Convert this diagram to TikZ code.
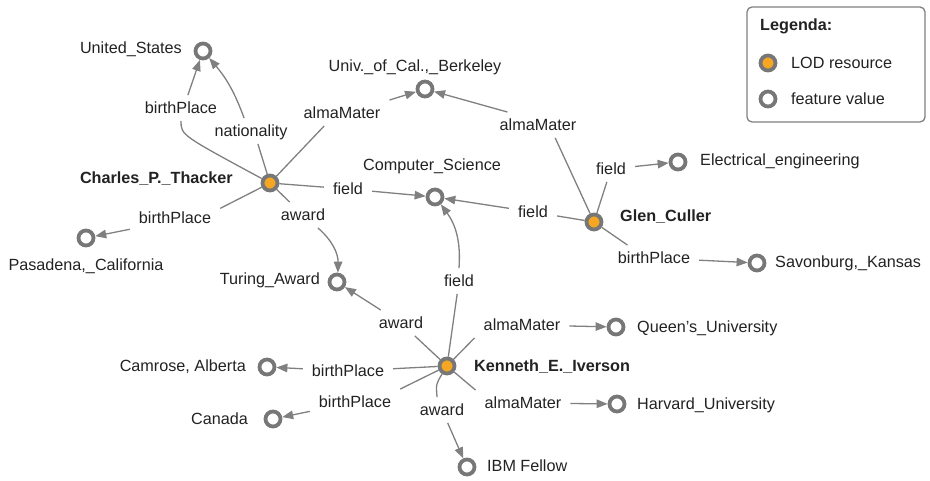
\documentclass[tikz,border=0pt]{standalone}
\usepackage{fontspec}
\setmainfont{Liberation Sans}
\usetikzlibrary{arrows.meta}
\definecolor{ringgray}{RGB}{119,119,119}
\definecolor{linkgray}{RGB}{128,128,128}
\definecolor{lodorange}{RGB}{245,166,35}
\definecolor{inkgray}{RGB}{34,34,34}
\newcommand\diagfont{\fontsize{16.2}{19}\selectfont}
\begin{document}
\begin{tikzpicture}[x=1pt,y=-1pt,
  every node/.style={font=\diagfont, text=inkgray},
  valnode/.style={circle, draw=ringgray, line width=3.8pt, fill=white,
                  minimum size=15pt, inner sep=0pt},
  resnode/.style={valnode, fill=lodorange},
  nodetext/.style={inner sep=0pt, text height=11.5pt, text depth=0pt},
  edgetext/.style={inner xsep=9pt, inner ysep=7pt, text height=11.5pt, text depth=0pt},
  linkline/.style={draw=linkgray, line width=1.3pt},
  arrowlink/.style={linkline, -{Triangle[length=11pt,width=8.5pt]}},
]
\useasboundingbox (0,0) rectangle (930,481);

% resources
\node[resnode] (C) at (270,183) {};
\node[resnode] (G) at (594,222) {};
\node[resnode] (K) at (447,366) {};
\node[nodetext, anchor=east, font=\diagfont\bfseries] (Ct) at (233,178) {Charles\_P.\_Thacker};
\node[nodetext, anchor=west, font=\diagfont\bfseries] (Gt) at (620,216) {Glen\_Culler};
\node[nodetext, anchor=west, font=\diagfont\bfseries] (Kt) at (474,366) {Kenneth\_E.\_Iverson};

% feature values
\node[valnode] (US)  at (203,51)  {};
\node[valnode] (Ber) at (425,89)  {};
\node[valnode] (CS)  at (435,197) {};
\node[valnode] (EE)  at (678,162) {};
\node[valnode] (Sav) at (757,263) {};
\node[valnode] (Pas) at (86,238)  {};
\node[valnode] (Tur) at (337,282) {};
\node[valnode] (Q)   at (616,327) {};
\node[valnode] (Har) at (617,404) {};
\node[valnode] (Cam) at (267,367) {};
\node[valnode] (Can) at (273,419) {};
\node[valnode] (IBM) at (467,467) {};

\node[nodetext, anchor=east] (USt)  at (182,48)  {United\_States};
\node[nodetext]              (Bert) at (415,66)  {Univ.\_of\_Cal.,\_Berkeley};
\node[nodetext]              (CSt)  at (432,165) {Computer\_Science};
\node[nodetext, anchor=west] (EEt)  at (700,160) {Electrical\_engineering};
\node[nodetext, anchor=west] (Savt) at (775,262) {Savonburg,\_Kansas};
\node[nodetext]              (Past) at (86,265)  {Pasadena,\_California};
\node[nodetext, anchor=east] (Turt) at (320,279) {Turing\_Award};
\node[nodetext, anchor=west] (Qt)   at (637,327) {Queen’s\_University};
\node[nodetext, anchor=west] (Hart) at (637,404) {Harvard\_University};
\node[nodetext, anchor=east] (Camt) at (246,366) {Camrose, Alberta};
\node[nodetext, anchor=east] (Cant) at (248,419) {Canada};
\node[nodetext, anchor=west] (IBMt) at (487,466) {IBM Fellow};

% relation labels
\node[edgetext] (l1)  at (181,108) {birthPlace};
\node[edgetext] (l2)  at (251,131) {nationality};
\node[edgetext] (l3)  at (342,113) {almaMater};
\node[edgetext] (l4)  at (348,189) {field};
\node[edgetext] (l5)  at (303,215) {award};
\node[edgetext] (l6)  at (175,218) {birthPlace};
\node[edgetext] (l7)  at (538,125) {almaMater};
\node[edgetext] (l8)  at (611,169) {field};
\node[edgetext] (l9)  at (533,212) {field};
\node[edgetext] (l10) at (654,258) {birthPlace};
\node[edgetext] (l11) at (459,281) {field};
\node[edgetext] (l12) at (522,325) {almaMater};
\node[edgetext] (l13) at (523,403) {almaMater};
\node[edgetext] (l14) at (442,410) {award};
\node[edgetext] (l15) at (401,323) {award};
\node[edgetext] (l16) at (348,371) {birthPlace};
\node[edgetext] (l17) at (355,402) {birthPlace};

% Charles_P._Thacker
\draw[linkline] (C) .. controls (181,135) .. (l1.south);
\draw[arrowlink] (l1.62) -- (US);
\draw[linkline] (C) -- (l2.298);
\draw[arrowlink] (l2.118) to[bend right=10] (US);
\draw[linkline] (C) -- (l3.216);
\draw[arrowlink] (l3.north east) -- (Ber);
\draw[linkline] (C) -- (l4);
\draw[arrowlink] (l4) -- (CS);
\draw[linkline] (C) -- (l5);
\draw[arrowlink] (l5.319) to[bend left=25] (Tur);
\draw[linkline] (C) -- (l6.12);
\draw[arrowlink] (l6.194) -- (Pas);

% Glen_Culler
\draw[linkline] (G) -- (l7.323);
\draw[arrowlink] (l7.157) -- (Ber);
\draw[linkline] (G) -- (l8);
\draw[arrowlink] (l8) -- (EE);
\draw[linkline] (G) -- (l9);
\draw[arrowlink] (l9) -- (CS);
\draw[linkline] (G) -- (l10.154);
\draw[arrowlink] (l10) -- (Sav);

% Kenneth_E._Iverson
\draw[linkline] (K) -- (l11);
\draw[arrowlink] (l11.north) to[bend right=20] (CS);
\draw[linkline] (K) -- (l12.south west);
\draw[arrowlink] (l12) -- (Q);
\draw[linkline] (K) -- (l13.north west);
\draw[arrowlink] (l13) -- (Har);
\draw[linkline] (K) .. controls (436,384) .. (l14.111);
\draw[arrowlink] (l14) -- (IBM);
\draw[linkline] (K) -- (l15);
\draw[arrowlink] (l15) -- (Tur);
\draw[linkline] (K) -- (l16);
\draw[arrowlink] (l16) -- (Cam);
\draw[linkline] (K) -- (l17.north east);
\draw[arrowlink] (l17) -- (Can);

% legend
\node[draw=linkgray, line width=1.3pt, rounded corners=5pt, minimum width=178pt,
      minimum height=115pt, inner sep=0pt] (legend) at (836,64.5) {};
\node[nodetext, anchor=west, font=\diagfont\bfseries] (legtitle) at (760,25) {Legenda:};
\node[resnode] (legres) at (768,63) {};
\node[valnode] (legval) at (768,99) {};
\node[nodetext, anchor=west] (legrest) at (791,63) {LOD resource};
\node[nodetext, anchor=west] (legvalt) at (791,99) {feature value};
\end{tikzpicture}
\end{document}
